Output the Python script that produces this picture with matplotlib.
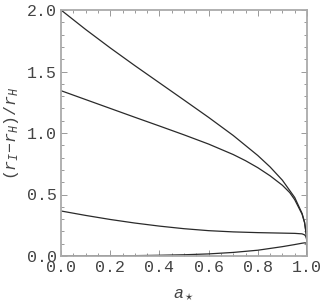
import matplotlib
matplotlib.use("Agg")
import matplotlib.pyplot as plt
from matplotlib.ticker import MultipleLocator, FormatStrFormatter

# spin parameter samples
a_top = [0.0, 0.1, 0.2, 0.3, 0.4, 0.5, 0.6, 0.7, 0.8, 0.85, 0.9, 0.95, 0.98, 0.99, 0.998, 0.9999, 1.0]
y_top = [2.0, 1.842, 1.692, 1.548, 1.408, 1.268, 1.127, 0.980, 0.817, 0.724, 0.616, 0.476, 0.346, 0.275, 0.163, 0.059, 0.0]

a_second = [0.0, 0.1, 0.2, 0.3, 0.4, 0.5, 0.6, 0.7, 0.75, 0.8, 0.85, 0.9, 0.93, 0.95, 0.98, 0.99, 0.998, 0.9999, 1.0]
y_second = [1.344, 1.272, 1.200, 1.128, 1.057, 0.985, 0.910, 0.825, 0.775, 0.718, 0.652, 0.575, 0.515, 0.458, 0.340, 0.272, 0.162, 0.059, 0.0]

a_third = [0.0, 0.1, 0.2, 0.3, 0.4, 0.5, 0.6, 0.7, 0.8, 0.9, 0.95, 0.98, 0.99, 0.995, 0.998, 0.9995, 1.0]
y_third = [0.366, 0.330, 0.297, 0.268, 0.243, 0.222, 0.206, 0.196, 0.190, 0.186, 0.184, 0.180, 0.172, 0.160, 0.140, 0.110, 0.0]

a_bottom = [0.0, 0.1, 0.2, 0.3, 0.4, 0.5, 0.6, 0.7, 0.8, 0.9, 0.95, 0.98, 0.99, 0.995, 0.998, 1.0]
y_bottom = [0.0, 0.0003, 0.001, 0.003, 0.006, 0.010, 0.017, 0.029, 0.047, 0.076, 0.093, 0.104, 0.107, 0.106, 0.100, 0.0]

x_ticks = [0.0, 0.2, 0.4, 0.6, 0.8, 1.0]
y_ticks = [0.0, 0.5, 1.0, 1.5, 2.0]

plt.rcParams['mathtext.fontset'] = 'custom'
plt.rcParams['mathtext.rm'] = 'Liberation Mono'
plt.rcParams['mathtext.it'] = 'Liberation Mono:italic'

fig = plt.figure(figsize=(3.25, 3.05), dpi=100)
ax = fig.add_axes([61/325, 1-256/305, 246/325, 246/305])

lc = '#2a2a2a'
for a, y in [(a_top, y_top), (a_second, y_second), (a_third, y_third), (a_bottom, y_bottom)]:
    ax.plot(a, y, color=lc, lw=0.9, solid_joinstyle='round')

ax.set_xlim(0, 1)
ax.set_ylim(0, 2)
ax.set_xticks(x_ticks)
ax.set_yticks(y_ticks)
ax.xaxis.set_major_formatter(FormatStrFormatter('%.1f'))
ax.yaxis.set_major_formatter(FormatStrFormatter('%.1f'))
ax.xaxis.set_minor_locator(MultipleLocator(0.05))
ax.yaxis.set_minor_locator(MultipleLocator(0.1))

fc = '#aaaaaa'
for s in ax.spines.values():
    s.set_color(fc)
    s.set_linewidth(1.3)
ax.tick_params(which='both', direction='in', top=True, right=True, color='#999999', width=0.7)
ax.tick_params(which='major', length=4, pad=3)
ax.tick_params(which='minor', length=2)
for lab in ax.get_xticklabels() + ax.get_yticklabels():
    lab.set_family('Liberation Mono')
    lab.set_fontsize(12)
    lab.set_color('#444444')

ax.set_ylabel(r'$\mathrm{(}r_I\mathrm{-}r_H\mathrm{)/}r_H$', fontsize=12, color='#444444', labelpad=4)
ax.set_xlabel(r'$a_\star$', fontsize=12, color='#444444', labelpad=7)

fig.savefig('out.png', dpi=100)
